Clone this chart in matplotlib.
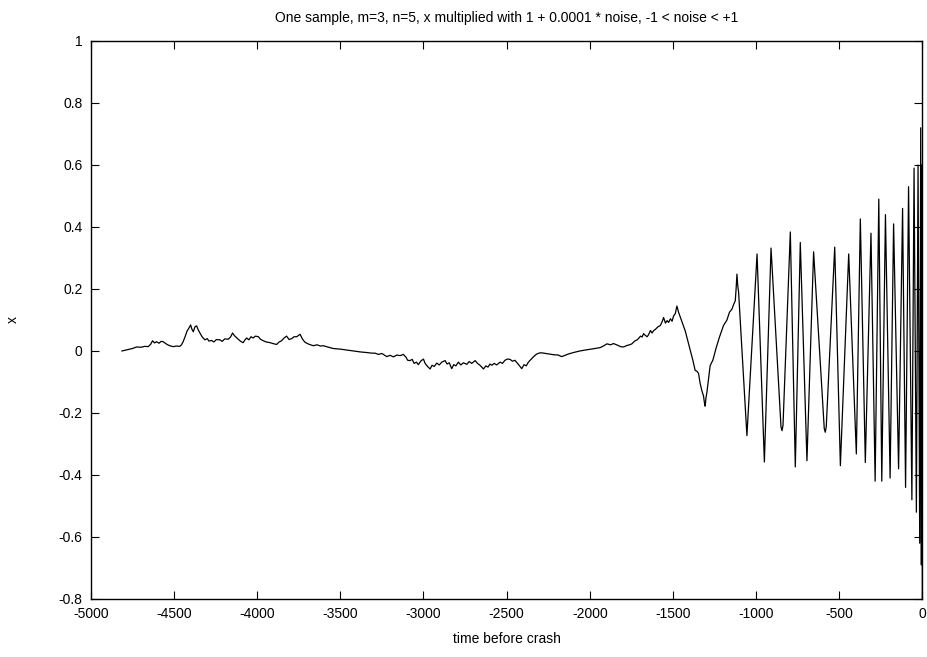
import matplotlib
matplotlib.use("Agg")
import matplotlib.pyplot as plt
import numpy as np

plt.rcParams['font.family'] = ['Liberation Sans', 'DejaVu Sans']
plt.rcParams['axes.unicode_minus'] = False

# slow, noisy drift before the oscillations
t_drift = [-4813, -4780, -4750, -4725, -4700, -4675, -4655, -4640, -4629, -4617,
           -4605, -4590, -4578, -4565, -4550, -4538, -4525, -4505, -4485, -4465,
           -4455, -4445, -4432, -4421, -4410, -4400, -4392, -4384, -4374, -4364,
           -4354, -4344, -4330, -4314, -4300, -4290, -4274, -4260, -4245, -4224,
           -4210, -4195, -4174, -4160, -4148, -4136, -4124, -4110, -4096, -4084,
           -4073, -4063, -4050, -4037, -4024, -4010, -3993, -3980, -3963, -3945,
           -3923, -3905, -3883, -3868, -3853, -3838, -3823, -3808, -3792, -3778,
           -3762, -3742, -3727, -3712, -3690, -3662, -3640, -3620, -3602, -3570,
           -3542, -3500, -3460, -3422, -3380, -3341, -3310, -3291, -3271, -3250,
           -3221, -3200, -3181, -3160, -3140, -3121, -3105, -3095, -3081, -3068,
           -3056, -3042, -3031, -3015, -3000, -2990, -2975, -2960, -2948, -2935,
           -2920, -2905, -2890, -2870, -2858, -2845, -2830, -2818, -2805, -2790,
           -2775, -2760, -2739, -2725, -2710, -2689, -2675, -2660, -2639, -2625,
           -2612, -2600, -2589, -2575, -2560, -2539, -2525, -2510, -2495, -2479,
           -2465, -2450, -2439, -2425, -2409, -2395, -2382, -2369, -2355, -2339,
           -2320, -2300, -2288, -2265, -2240, -2218, -2190, -2170, -2158, -2130,
           -2098, -2060, -2017, -1980, -1937, -1915, -1897, -1875, -1857, -1830,
           -1815, -1797, -1775, -1760, -1747, -1730, -1715, -1707, -1695, -1685,
           -1677, -1665, -1655, -1647, -1635, -1625, -1617, -1605, -1590, -1576,
           -1565, -1556, -1545, -1535, -1526, -1515, -1505, -1496, -1486, -1476,
           -1466, -1456, -1440, -1426, -1400, -1380, -1366, -1356, -1346, -1336,
           -1326, -1316, -1311, -1306, -1301, -1296, -1286, -1276, -1260, -1240,
           -1220, -1196, -1175, -1160, -1145, -1135, -1125, -1120]
x_drift = [0.000, 0.004, 0.008, 0.013, 0.012, 0.015, 0.014, 0.022, 0.033, 0.026,
           0.030, 0.025, 0.031, 0.030, 0.024, 0.020, 0.017, 0.014, 0.016, 0.015,
           0.020, 0.030, 0.048, 0.065, 0.074, 0.084, 0.070, 0.062, 0.078, 0.081,
           0.068, 0.058, 0.045, 0.036, 0.040, 0.032, 0.034, 0.029, 0.037, 0.036,
           0.031, 0.039, 0.038, 0.045, 0.058, 0.049, 0.043, 0.036, 0.030, 0.027,
           0.036, 0.042, 0.036, 0.046, 0.042, 0.048, 0.046, 0.038, 0.033, 0.029,
           0.027, 0.024, 0.021, 0.029, 0.033, 0.042, 0.048, 0.037, 0.040, 0.046,
           0.046, 0.054, 0.038, 0.028, 0.022, 0.017, 0.020, 0.016, 0.017, 0.012,
           0.008, 0.006, 0.003, 0.000, -0.003, -0.005, -0.007, -0.007, -0.011, -0.008,
           -0.018, -0.014, -0.019, -0.013, -0.015, -0.011, -0.020, -0.030, -0.031, -0.027,
           -0.040, -0.036, -0.044, -0.032, -0.026, -0.040, -0.050, -0.058, -0.046, -0.050,
           -0.039, -0.045, -0.036, -0.031, -0.042, -0.038, -0.057, -0.044, -0.048, -0.036,
           -0.045, -0.038, -0.043, -0.034, -0.040, -0.031, -0.040, -0.046, -0.058, -0.048,
           -0.052, -0.042, -0.046, -0.040, -0.045, -0.036, -0.040, -0.030, -0.026, -0.027,
           -0.033, -0.030, -0.037, -0.046, -0.057, -0.044, -0.048, -0.036, -0.028, -0.019,
           -0.010, -0.006, -0.006, -0.008, -0.010, -0.012, -0.013, -0.018, -0.016, -0.010,
           -0.005, 0.000, 0.004, 0.007, 0.011, 0.017, 0.023, 0.020, 0.024, 0.018,
           0.014, 0.013, 0.018, 0.020, 0.023, 0.032, 0.036, 0.040, 0.048, 0.045,
           0.056, 0.050, 0.046, 0.052, 0.066, 0.058, 0.065, 0.070, 0.078, 0.082,
           0.094, 0.108, 0.090, 0.098, 0.092, 0.104, 0.096, 0.113, 0.120, 0.145,
           0.125, 0.110, 0.085, 0.065, 0.012, -0.030, -0.063, -0.065, -0.072, -0.105,
           -0.128, -0.145, -0.165, -0.178, -0.150, -0.135, -0.090, -0.047, -0.030, 0.010,
           0.045, 0.082, 0.100, 0.125, 0.135, 0.150, 0.162, 0.200]

# oscillations towards the crash: peaks and troughs
t_osc = [-1115, -1110, -1105, -1055, -994, -950, -910, -850, -844, -838,
         -794, -764, -734, -694, -654, -590, -584, -578, -527, -493,
         -443, -397, -373, -343, -309, -284, -262, -244, -222, -194,
         -173, -143, -119, -101, -83, -63, -50, -36, -26, -16,
         -10, -6, -3, 0]
x_osc = [0.248, 0.210, 0.190, -0.273, 0.313, -0.358, 0.332, -0.245, -0.257, -0.240,
         0.384, -0.374, 0.350, -0.354, 0.320, -0.250, -0.262, -0.245, 0.335, -0.370,
         0.313, -0.332, 0.426, -0.360, 0.380, -0.420, 0.490, -0.420, 0.440, -0.410,
         0.410, -0.380, 0.460, -0.440, 0.530, -0.480, 0.590, -0.520, 0.600, -0.620,
         0.720, -0.690, 0.600, -0.800]

t = np.array(t_drift + t_osc)
x = np.array(x_drift + x_osc)

fig = plt.figure(figsize=(9.27, 6.57), dpi=100)
ax = fig.add_axes([0.098, 0.0883, 0.897, 0.8493])
ax.plot(t, x, color='black', linewidth=0.9)

ax.set_xlim(-5000, 0)
ax.set_ylim(-0.8, 1)
ax.set_xticks(np.arange(-5000, 1, 500))
ax.set_yticks(np.arange(-0.8, 1.01, 0.2))
ax.set_yticklabels(['-0.8', '-0.6', '-0.4', '-0.2', '0', '0.2', '0.4', '0.6', '0.8', '1'])
ax.tick_params(direction='in', length=6, width=0.8, top=True, right=True,
               labelsize=10, pad=6)
for s in ax.spines.values():
    s.set_linewidth(1.0)

ax.set_title('One sample, m=3, n=5, x multiplied with 1 + 0.0001 * noise, -1 < noise < +1',
             fontsize=10, pad=14)
ax.set_xlabel('time before crash', fontsize=10, labelpad=8)
ax.set_ylabel('x', fontsize=10, labelpad=28)

fig.savefig('out.png', dpi=100)
